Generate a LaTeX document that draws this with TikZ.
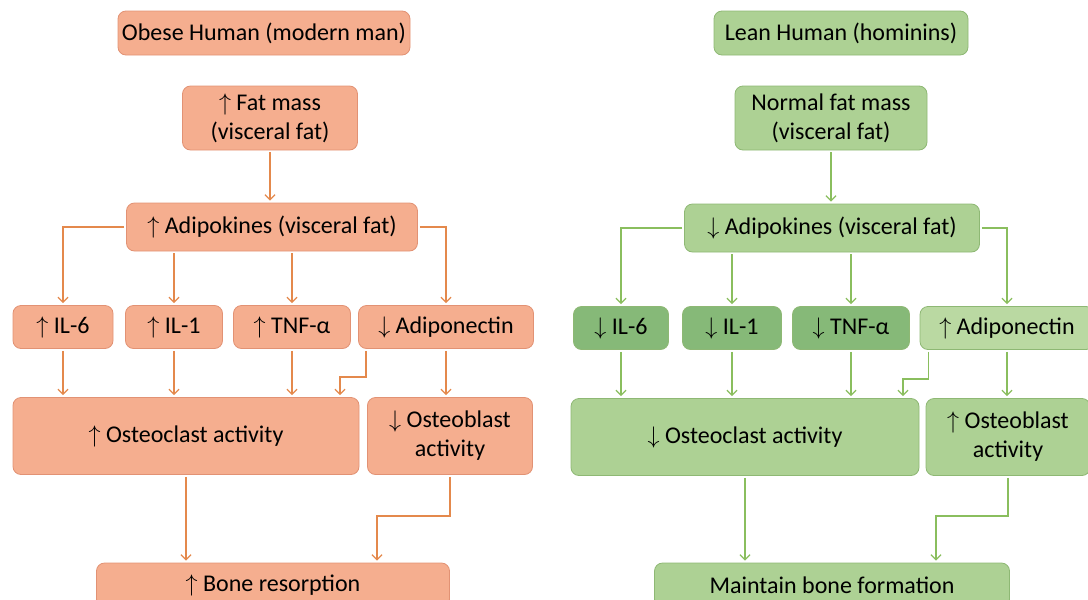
\documentclass[tikz,border=0pt]{standalone}
\usepackage{fontspec}
\setmainfont{Carlito}
\usetikzlibrary{arrows.meta}
\definecolor{ofill}{RGB}{245,174,143}
\definecolor{oline}{RGB}{226,146,116}
\definecolor{oarrow}{RGB}{228,137,76}
\definecolor{gfill}{RGB}{173,209,148}
\definecolor{gdark}{RGB}{134,185,120}
\definecolor{glight}{RGB}{186,217,162}
\definecolor{gline}{RGB}{142,184,116}
\definecolor{garrow}{RGB}{138,190,94}

\begin{document}
\begin{tikzpicture}[x=0.5pt,y=-0.5pt,
    wh/.style 2 args={minimum width=#1*0.5pt,minimum height=#2*0.5pt},
    obox/.style={draw=oline,fill=ofill,rounded corners=4pt,align=center,inner sep=0pt,
      font=\fontsize{12}{14.5}\selectfont},
    gbox/.style={obox,draw=gline,fill=gfill},
    oarr/.style={draw=oarrow,line width=0.65pt,-{Straight Barb[length=2.5pt,width=5pt]},shorten >=1pt,shorten <=1pt},
    garr/.style={oarr,draw=garrow}]
  \useasboundingbox (0,0) rectangle (1088,600);
  % obese side
  \node[obox,wh={292}{44}] (hdL) at (264,33) {Obese Human (modern man)};
  \node[obox,wh={175}{64}] (fatL) at (270,118) {$\uparrow$ Fat mass\\(visceral fat)};
  \node[obox,wh={291}{48}] (adpL) at (272,227) {$\uparrow$ Adipokines (visceral fat)};
  \node[obox,wh={100}{43}] (il6L) at (63,327) {$\uparrow$ IL-6};
  \node[obox,wh={97}{43}] (il1L) at (174,327) {$\uparrow$ IL-1};
  \node[obox,wh={117}{43}] (tnfL) at (292,327) {$\uparrow$ TNF-α};
  \node[obox,wh={175}{43}] (adnL) at (446,327) {$\downarrow$ Adiponectin};
  \node[obox,wh={346}{77}] (oclL) at (186,436) {$\uparrow$ Osteoclast activity};
  \node[obox,wh={165}{77}] (oblL) at (450,436) {$\downarrow$ Osteoblast\\activity};
  \node[obox,wh={353}{44}] (boneL) at (273,585) {$\uparrow$ Bone resorption};
  \coordinate (kL1) at (340,377);
  \coordinate (kL2) at (377,516);
  \draw[oarr] (fatL.south) -- (fatL.south |- adpL.north);
  \draw[oarr] (adpL.west) -| (il6L.north);
  \draw[oarr] (adpL.east) -| (adnL.north);
  \draw[oarr] (il1L.north |- adpL.south) -- (il1L.north);
  \draw[oarr] (tnfL.north |- adpL.south) -- (tnfL.north);
  \foreach \n in {il6L,il1L,tnfL}
    \draw[oarr] (\n.south) -- (\n.south |- oclL.north);
  \draw[oarr] (adnL.south) -- (adnL.south |- oblL.north);
  \draw[oarr] ([xshift=4pt]adnL.south west) |- (kL1) -- (kL1 |- oclL.north);
  \draw[oarr] (oclL.south) -- (oclL.south |- boneL.north);
  \draw[oarr] (oblL.south) |- (kL2) -- (kL2 |- boneL.north);
  % lean side
  \node[gbox,wh={254}{44}] (hdR) at (841,33) {Lean Human (hominins)};
  \node[gbox,wh={192}{64}] (fatR) at (831,118) {Normal fat mass\\(visceral fat)};
  \node[gbox,wh={295}{48}] (adpR) at (832,228) {$\downarrow$ Adipokines (visceral fat)};
  \node[gbox,fill=gdark,wh={95}{43}] (il6R) at (621,328) {$\downarrow$ IL-6};
  \node[gbox,fill=gdark,wh={99}{43}] (il1R) at (732,328) {$\downarrow$ IL-1};
  \node[gbox,fill=gdark,wh={117}{43}] (tnfR) at (851,328) {$\downarrow$ TNF-α};
  \node[gbox,fill=glight,wh={174}{43}] (adnR) at (1007,328) {$\uparrow$ Adiponectin};
  \node[gbox,wh={348}{77}] (oclR) at (745,437) {$\downarrow$ Osteoclast activity};
  \node[gbox,wh={164}{77}] (oblR) at (1008,437) {$\uparrow$ Osteoblast\\activity};
  \node[gbox,wh={355}{44}] (boneR) at (832,585) {Maintain bone formation};
  \coordinate (kR1) at (903,379);
  \coordinate (kR2) at (936,516);
  \draw[garr] (fatR.south) -- (fatR.south |- adpR.north);
  \draw[garr] (adpR.west) -| (il6R.north);
  \draw[garr] (adpR.east) -| (adnR.north);
  \draw[garr] (il1R.north |- adpR.south) -- (il1R.north);
  \draw[garr] (tnfR.north |- adpR.south) -- (tnfR.north);
  \foreach \n in {il6R,il1R,tnfR}
    \draw[garr] (\n.south) -- (\n.south |- oclR.north);
  \draw[garr] (adnR.south) -- (adnR.south |- oblR.north);
  \draw[garr] ([xshift=4.5pt]adnR.south west) |- (kR1) -- (kR1 |- oclR.north);
  \draw[garr] (oclR.south) -- (oclR.south |- boneR.north);
  \draw[garr] (oblR.south) |- (kR2) -- (kR2 |- boneR.north);
\end{tikzpicture}
\end{document}
